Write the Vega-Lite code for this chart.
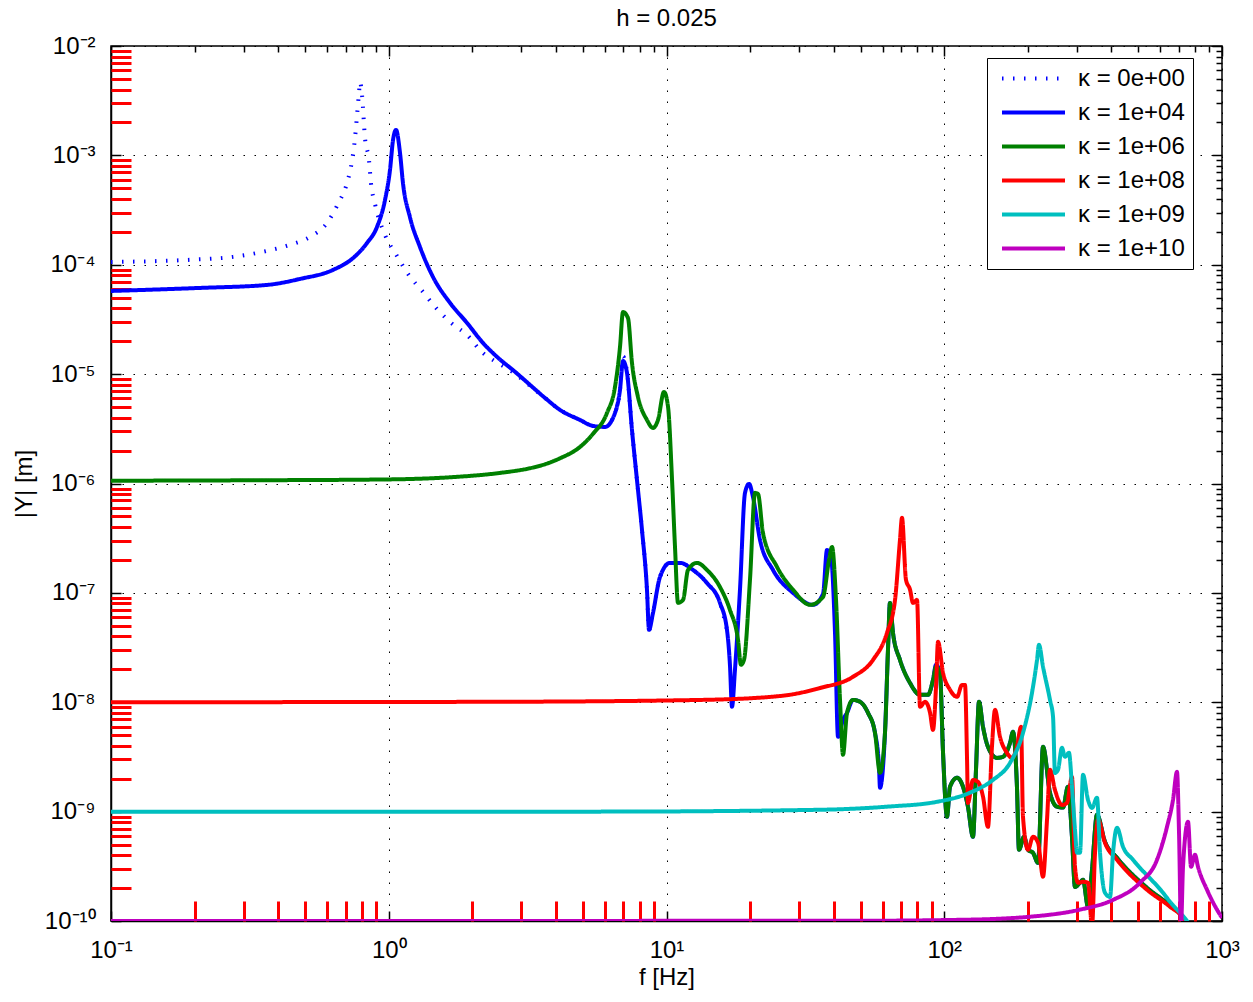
{
  "$schema": "https://vega.github.io/schema/vega-lite/v6.json",
  "width": 1111,
  "height": 875,
  "autosize": {"type": "none"},
  "padding": {"left": 111, "top": 46, "right": 31, "bottom": 81},
  "background": "white",
  "title": {"text": "h = 0.025", "font": "Liberation Sans", "fontSize": 24, "fontWeight": "normal", "color": "black", "anchor": "middle", "offset": 3},
  "config": {
    "view": {"stroke": "black", "strokeWidth": 1.5},
    "axis": {"domainColor": "black", "domainWidth": 1.5, "tickColor": "black", "tickWidth": 1.5, "labelColor": "black", "titleColor": "black"}
  },
  "data": {"values": [
    {"s":"κ = 0e+00","f":0.1,"Y":1.06e-4},{"s":"κ = 0e+00","f":0.1925,"Y":1.11e-4},{"s":"κ = 0e+00","f":0.2749,"Y":1.18e-4},{"s":"κ = 0e+00","f":0.3645,"Y":1.34e-4},{"s":"κ = 0e+00","f":0.441,"Y":1.52e-4},{"s":"κ = 0e+00","f":0.5206,"Y":1.80e-4},{"s":"κ = 0e+00","f":0.5995,"Y":2.41e-4},{"s":"κ = 0e+00","f":0.6565,"Y":3.60e-4},{"s":"κ = 0e+00","f":0.7073,"Y":5.59e-4},{"s":"κ = 0e+00","f":0.7373,"Y":8.89e-4},{"s":"κ = 0e+00","f":0.7559,"Y":1.44e-3},{"s":"κ = 0e+00","f":0.7685,"Y":2.29e-3},{"s":"κ = 0e+00","f":0.7814,"Y":3.72e-3},{"s":"κ = 0e+00","f":0.7879,"Y":4.69e-3},{"s":"κ = 0e+00","f":0.8011,"Y":3.57e-3},{"s":"κ = 0e+00","f":0.8212,"Y":1.44e-3},{"s":"κ = 0e+00","f":0.8488,"Y":9.08e-4},{"s":"κ = 0e+00","f":0.863,"Y":5.59e-4},{"s":"κ = 0e+00","f":0.8921,"Y":3.60e-4},{"s":"κ = 0e+00","f":0.9694,"Y":1.87e-4},{"s":"κ = 0e+00","f":1.071,"Y":1.20e-4},{"s":"κ = 0e+00","f":1.173,"Y":8.24e-5},{"s":"κ = 0e+00","f":1.328,"Y":5.64e-5},{"s":"κ = 0e+00","f":1.492,"Y":3.94e-5},{"s":"κ = 0e+00","f":1.662,"Y":3.0e-5},{"s":"κ = 0e+00","f":1.913,"Y":2.28e-5},{"s":"κ = 0e+00","f":2.184,"Y":1.56e-5},{"s":"κ = 0e+00","f":2.315,"Y":1.40e-5},{"s":"κ = 0e+00","f":2.453,"Y":1.28e-5},{"s":"κ = 0e+00","f":2.849,"Y":1.01e-5},{"s":"κ = 0e+00","f":3.226,"Y":7.8e-6},{"s":"κ = 0e+00","f":3.652,"Y":6.06e-6},{"s":"κ = 0e+00","f":4.136,"Y":4.71e-6},{"s":"κ = 0e+00","f":4.882,"Y":3.81e-6},{"s":"κ = 0e+00","f":5.438,"Y":3.36e-6},{"s":"κ = 0e+00","f":6.006,"Y":3.29e-6},{"s":"κ = 0e+00","f":6.525,"Y":4.42e-6},{"s":"κ = 0e+00","f":6.801,"Y":7.17e-6},{"s":"κ = 0e+00","f":6.972,"Y":1.45e-5},{"s":"κ = 0e+00","f":7.206,"Y":1.05e-5},{"s":"κ = 0e+00","f":7.511,"Y":3.09e-6},{"s":"κ = 0e+00","f":7.828,"Y":1.08e-6},{"s":"κ = 0e+00","f":8.16,"Y":3.77e-7},{"s":"κ = 0e+00","f":8.505,"Y":1.07e-7},{"s":"κ = 0e+00","f":8.65,"Y":4.59e-8},{"s":"κ = 0e+00","f":8.941,"Y":6.56e-8},{"s":"κ = 0e+00","f":9.476,"Y":1.40e-7},{"s":"κ = 0e+00","f":10.29,"Y":1.88e-7},{"s":"κ = 0e+00","f":11.18,"Y":1.88e-7},{"s":"κ = 0e+00","f":12.46,"Y":1.62e-7},{"s":"κ = 0e+00","f":13.99,"Y":1.23e-7},{"s":"κ = 0e+00","f":15.58,"Y":8.10e-8},{"s":"κ = 0e+00","f":16.51,"Y":4.59e-8},

    {"s":"κ = 1e+04","f":0.1,"Y":5.76e-5},{"s":"κ = 1e+04","f":0.2091,"Y":6.14e-5},{"s":"κ = 1e+04","f":0.3645,"Y":6.54e-5},{"s":"κ = 1e+04","f":0.4792,"Y":7.42e-5},{"s":"κ = 1e+04","f":0.6298,"Y":8.97e-5},{"s":"κ = 1e+04","f":0.7434,"Y":1.15e-4},{"s":"κ = 1e+04","f":0.8349,"Y":1.58e-4},{"s":"κ = 1e+04","f":0.9073,"Y":2.22e-4},{"s":"κ = 1e+04","f":0.9694,"Y":3.91e-4},{"s":"κ = 1e+04","f":1.0104,"Y":7.36e-4},{"s":"κ = 1e+04","f":1.036,"Y":1.38e-3},{"s":"κ = 1e+04","f":1.062,"Y":1.71e-3},{"s":"κ = 1e+04","f":1.098,"Y":1.05e-3},{"s":"κ = 1e+04","f":1.125,"Y":5.59e-4},{"s":"κ = 1e+04","f":1.192,"Y":2.73e-4},{"s":"κ = 1e+04","f":1.296,"Y":1.45e-4},{"s":"κ = 1e+04","f":1.443,"Y":7.74e-5},{"s":"κ = 1e+04","f":1.662,"Y":4.48e-5},{"s":"κ = 1e+04","f":1.913,"Y":2.94e-5},{"s":"κ = 1e+04","f":2.184,"Y":1.93e-5},{"s":"κ = 1e+04","f":2.453,"Y":1.44e-5},{"s":"κ = 1e+04","f":2.849,"Y":1.05e-5},{"s":"κ = 1e+04","f":3.226,"Y":7.97e-6},{"s":"κ = 1e+04","f":3.652,"Y":6.06e-6},{"s":"κ = 1e+04","f":4.136,"Y":4.71e-6},{"s":"κ = 1e+04","f":4.882,"Y":3.81e-6},{"s":"κ = 1e+04","f":5.438,"Y":3.36e-6},{"s":"κ = 1e+04","f":6.006,"Y":3.29e-6},{"s":"κ = 1e+04","f":6.525,"Y":4.42e-6},{"s":"κ = 1e+04","f":6.801,"Y":7.17e-6},{"s":"κ = 1e+04","f":6.972,"Y":1.32e-5},{"s":"κ = 1e+04","f":7.206,"Y":1.03e-5},{"s":"κ = 1e+04","f":7.511,"Y":3.09e-6},{"s":"κ = 1e+04","f":7.828,"Y":1.08e-6},{"s":"κ = 1e+04","f":8.16,"Y":3.77e-7},{"s":"κ = 1e+04","f":8.505,"Y":1.07e-7},{"s":"κ = 1e+04","f":8.65,"Y":4.59e-8},{"s":"κ = 1e+04","f":8.941,"Y":6.56e-8},{"s":"κ = 1e+04","f":9.476,"Y":1.40e-7},{"s":"κ = 1e+04","f":10.29,"Y":1.88e-7},{"s":"κ = 1e+04","f":11.18,"Y":1.88e-7},{"s":"κ = 1e+04","f":12.46,"Y":1.62e-7},{"s":"κ = 1e+04","f":13.99,"Y":1.23e-7},{"s":"κ = 1e+04","f":15.58,"Y":8.10e-8},{"s":"κ = 1e+04","f":16.51,"Y":4.59e-8},{"s":"κ = 1e+04","f":16.92,"Y":2.20e-8},{"s":"κ = 1e+04","f":17.21,"Y":9.08e-9},{"s":"κ = 1e+04","f":17.64,"Y":1.98e-8},{"s":"κ = 1e+04","f":18.39,"Y":1.07e-7},{"s":"κ = 1e+04","f":19.17,"Y":8.21e-7},{"s":"κ = 1e+04","f":19.82,"Y":9.92e-7},{"s":"κ = 1e+04","f":20.48,"Y":7.54e-7},{"s":"κ = 1e+04","f":21.71,"Y":3.05e-7},{"s":"κ = 1e+04","f":24.18,"Y":1.62e-7},{"s":"κ = 1e+04","f":28.54,"Y":1.0e-7},{"s":"κ = 1e+04","f":33.69,"Y":7.77e-8},{"s":"κ = 1e+04","f":36.61,"Y":9.79e-8},{"s":"κ = 1e+04","f":37.84,"Y":2.47e-7},{"s":"κ = 1e+04","f":39.11,"Y":2.13e-7},{"s":"κ = 1e+04","f":40.43,"Y":4.31e-8},{"s":"κ = 1e+04","f":41.45,"Y":4.83e-9},{"s":"κ = 1e+04","f":43.2,"Y":6.9e-9},{"s":"κ = 1e+04","f":44.66,"Y":8.0e-9},{"s":"κ = 1e+04","f":46.94,"Y":1.05e-8},{"s":"κ = 1e+04","f":49.74,"Y":1.01e-8},{"s":"κ = 1e+04","f":53.15,"Y":8.0e-9},{"s":"κ = 1e+04","f":56.32,"Y":5.25e-9},{"s":"κ = 1e+04","f":58.22,"Y":2.57e-9},{"s":"κ = 1e+04","f":58.7,"Y":1.65e-9},{"s":"κ = 1e+04","f":61.18,"Y":5.25e-9},{"s":"κ = 1e+04","f":62.72,"Y":3.01e-8},{"s":"κ = 1e+04","f":63.77,"Y":8.10e-8},{"s":"κ = 1e+04","f":65.38,"Y":4.31e-8},{"s":"κ = 1e+04","f":69.28,"Y":2.44e-8},{"s":"κ = 1e+04","f":75.3,"Y":1.50e-8},{"s":"κ = 1e+04","f":81.8,"Y":1.17e-8},{"s":"κ = 1e+04","f":87.4,"Y":1.17e-8},{"s":"κ = 1e+04","f":91.1,"Y":1.60e-8},{"s":"κ = 1e+04","f":93.4,"Y":2.2e-8},{"s":"κ = 1e+04","f":96.5,"Y":1.86e-8},{"s":"κ = 1e+04","f":99.0,"Y":3.45e-9},{"s":"κ = 1e+04","f":102.3,"Y":8.97e-10},{"s":"κ = 1e+04","f":104.9,"Y":1.69e-9},{"s":"κ = 1e+04","f":111.2,"Y":2.04e-9},{"s":"κ = 1e+04","f":116.8,"Y":1.69e-9},{"s":"κ = 1e+04","f":121.7,"Y":1.11e-9},{"s":"κ = 1e+04","f":126.9,"Y":5.89e-10},{"s":"κ = 1e+04","f":130.1,"Y":2.41e-9},{"s":"κ = 1e+04","f":133.4,"Y":1.01e-8},{"s":"κ = 1e+04","f":137.9,"Y":5.96e-9},{"s":"κ = 1e+04","f":143.7,"Y":3.91e-9},{"s":"κ = 1e+04","f":154.8,"Y":3.10e-9},{"s":"κ = 1e+04","f":162.7,"Y":3.17e-9},{"s":"κ = 1e+04","f":172.5,"Y":4.26e-9},{"s":"κ = 1e+04","f":176.8,"Y":5.36e-9},{"s":"κ = 1e+04","f":182.7,"Y":1.69e-9},{"s":"κ = 1e+04","f":185.8,"Y":4.48e-10},{"s":"κ = 1e+04","f":193.8,"Y":5.89e-10},{"s":"κ = 1e+04","f":200.2,"Y":4.48e-10},{"s":"κ = 1e+04","f":208.7,"Y":4.20e-10},{"s":"κ = 1e+04","f":217.6,"Y":3.40e-10},{"s":"κ = 1e+04","f":226.8,"Y":3.91e-9},{"s":"κ = 1e+04","f":240.3,"Y":1.49e-9},{"s":"κ = 1e+04","f":254.6,"Y":1.11e-9},{"s":"κ = 1e+04","f":267.6,"Y":1.09e-9},{"s":"κ = 1e+04","f":278.9,"Y":1.69e-9},{"s":"κ = 1e+04","f":288.3,"Y":5.89e-10},{"s":"κ = 1e+04","f":295.6,"Y":2.05e-10},{"s":"κ = 1e+04","f":308.2,"Y":2.24e-10},{"s":"κ = 1e+04","f":315.9,"Y":2.38e-10},{"s":"κ = 1e+04","f":329.3,"Y":1.35e-10},{"s":"κ = 1e+04","f":340.4,"Y":2.94e-10},{"s":"κ = 1e+04","f":354.8,"Y":9.35e-10},{"s":"κ = 1e+04","f":379.1,"Y":5.30e-10},{"s":"κ = 1e+04","f":418.8,"Y":3.78e-10},{"s":"κ = 1e+04","f":537.0,"Y":2.01e-10},{"s":"κ = 1e+04","f":649.8,"Y":1.38e-10},{"s":"κ = 1e+04","f":723.8,"Y":1.05e-10},{"s":"κ = 1e+04","f":742.0,"Y":9.0e-11},

    {"s":"κ = 1e+06","f":0.1,"Y":1.06e-6},{"s":"κ = 1e+06","f":0.3166,"Y":1.07e-6},{"s":"κ = 1e+06","f":1.0,"Y":1.09e-6},{"s":"κ = 1e+06","f":1.662,"Y":1.14e-6},{"s":"κ = 1e+06","f":2.515,"Y":1.25e-6},{"s":"κ = 1e+06","f":3.226,"Y":1.38e-6},{"s":"κ = 1e+06","f":3.652,"Y":1.5e-6},{"s":"κ = 1e+06","f":4.136,"Y":1.7e-6},{"s":"κ = 1e+06","f":4.882,"Y":2.16e-6},{"s":"κ = 1e+06","f":5.438,"Y":2.85e-6},{"s":"κ = 1e+06","f":6.107,"Y":4.42e-6},{"s":"κ = 1e+06","f":6.525,"Y":7.64e-6},{"s":"κ = 1e+06","f":6.801,"Y":1.77e-5},{"s":"κ = 1e+06","f":6.972,"Y":3.70e-5},{"s":"κ = 1e+06","f":7.266,"Y":3.26e-5},{"s":"κ = 1e+06","f":7.511,"Y":1.27e-5},{"s":"κ = 1e+06","f":7.894,"Y":6.19e-6},{"s":"κ = 1e+06","f":8.505,"Y":3.81e-6},{"s":"κ = 1e+06","f":8.941,"Y":3.22e-6},{"s":"κ = 1e+06","f":9.319,"Y":3.81e-6},{"s":"κ = 1e+06","f":9.795,"Y":6.88e-6},{"s":"κ = 1e+06","f":10.13,"Y":5.01e-6},{"s":"κ = 1e+06","f":10.47,"Y":1.08e-6},{"s":"κ = 1e+06","f":10.73,"Y":2.63e-7},{"s":"κ = 1e+06","f":11.0,"Y":8.10e-8},{"s":"κ = 1e+06","f":11.47,"Y":8.63e-8},{"s":"κ = 1e+06","f":11.95,"Y":1.62e-7},{"s":"κ = 1e+06","f":12.88,"Y":1.88e-7},{"s":"κ = 1e+06","f":13.99,"Y":1.62e-7},{"s":"κ = 1e+06","f":15.58,"Y":1.13e-7},{"s":"κ = 1e+06","f":16.92,"Y":6.99e-8},{"s":"κ = 1e+06","f":18.09,"Y":3.72e-8},{"s":"κ = 1e+06","f":18.54,"Y":2.20e-8},{"s":"κ = 1e+06","f":19.01,"Y":2.44e-8},{"s":"κ = 1e+06","f":19.98,"Y":1.32e-7},{"s":"κ = 1e+06","f":20.83,"Y":8.21e-7},{"s":"κ = 1e+06","f":21.36,"Y":8.0e-7},{"s":"κ = 1e+06","f":22.25,"Y":3.54e-7},{"s":"κ = 1e+06","f":24.99,"Y":1.73e-7},{"s":"κ = 1e+06","f":28.54,"Y":1.07e-7},{"s":"κ = 1e+06","f":32.87,"Y":7.77e-8},{"s":"κ = 1e+06","f":36.61,"Y":9.19e-8},{"s":"κ = 1e+06","f":38.47,"Y":2.0e-7},{"s":"κ = 1e+06","f":39.44,"Y":2.63e-7},{"s":"κ = 1e+06","f":40.77,"Y":8.63e-8},{"s":"κ = 1e+06","f":42.14,"Y":1.05e-8},{"s":"κ = 1e+06","f":43.2,"Y":3.31e-9},{"s":"κ = 1e+06","f":44.66,"Y":8.0e-9},{"s":"κ = 1e+06","f":46.94,"Y":1.05e-8},{"s":"κ = 1e+06","f":49.74,"Y":1.01e-8},{"s":"κ = 1e+06","f":53.15,"Y":8.0e-9},{"s":"κ = 1e+06","f":56.32,"Y":5.25e-9},{"s":"κ = 1e+06","f":58.7,"Y":2.26e-9},{"s":"κ = 1e+06","f":61.18,"Y":5.25e-9},{"s":"κ = 1e+06","f":62.72,"Y":3.01e-8},{"s":"κ = 1e+06","f":63.77,"Y":8.10e-8},{"s":"κ = 1e+06","f":65.38,"Y":4.31e-8},{"s":"κ = 1e+06","f":69.28,"Y":2.44e-8},{"s":"κ = 1e+06","f":75.3,"Y":1.50e-8},{"s":"κ = 1e+06","f":81.8,"Y":1.17e-8},{"s":"κ = 1e+06","f":87.4,"Y":1.17e-8},{"s":"κ = 1e+06","f":91.1,"Y":1.60e-8},{"s":"κ = 1e+06","f":93.4,"Y":2.11e-8},{"s":"κ = 1e+06","f":96.5,"Y":1.86e-8},{"s":"κ = 1e+06","f":99.0,"Y":3.45e-9},{"s":"κ = 1e+06","f":102.3,"Y":8.97e-10},{"s":"κ = 1e+06","f":104.9,"Y":1.69e-9},{"s":"κ = 1e+06","f":111.2,"Y":2.04e-9},{"s":"κ = 1e+06","f":116.8,"Y":1.69e-9},{"s":"κ = 1e+06","f":121.7,"Y":1.11e-9},{"s":"κ = 1e+06","f":126.9,"Y":5.89e-10},{"s":"κ = 1e+06","f":130.1,"Y":2.41e-9},{"s":"κ = 1e+06","f":133.4,"Y":1.01e-8},{"s":"κ = 1e+06","f":137.9,"Y":5.96e-9},{"s":"κ = 1e+06","f":143.7,"Y":3.91e-9},{"s":"κ = 1e+06","f":154.8,"Y":3.10e-9},{"s":"κ = 1e+06","f":162.7,"Y":3.17e-9},{"s":"κ = 1e+06","f":172.5,"Y":4.26e-9},{"s":"κ = 1e+06","f":176.8,"Y":5.36e-9},{"s":"κ = 1e+06","f":182.7,"Y":1.69e-9},{"s":"κ = 1e+06","f":185.8,"Y":4.48e-10},{"s":"κ = 1e+06","f":193.8,"Y":5.89e-10},{"s":"κ = 1e+06","f":200.2,"Y":4.48e-10},{"s":"κ = 1e+06","f":208.7,"Y":4.20e-10},{"s":"κ = 1e+06","f":217.6,"Y":3.40e-10},{"s":"κ = 1e+06","f":226.8,"Y":3.91e-9},{"s":"κ = 1e+06","f":240.3,"Y":1.49e-9},{"s":"κ = 1e+06","f":254.6,"Y":1.11e-9},{"s":"κ = 1e+06","f":267.6,"Y":1.09e-9},{"s":"κ = 1e+06","f":278.9,"Y":1.69e-9},{"s":"κ = 1e+06","f":288.3,"Y":5.89e-10},{"s":"κ = 1e+06","f":295.6,"Y":2.05e-10},{"s":"κ = 1e+06","f":308.2,"Y":2.24e-10},{"s":"κ = 1e+06","f":315.9,"Y":2.38e-10},{"s":"κ = 1e+06","f":329.3,"Y":1.35e-10},{"s":"κ = 1e+06","f":340.4,"Y":2.94e-10},{"s":"κ = 1e+06","f":354.8,"Y":9.35e-10},{"s":"κ = 1e+06","f":379.1,"Y":5.30e-10},{"s":"κ = 1e+06","f":418.8,"Y":3.78e-10},{"s":"κ = 1e+06","f":537.0,"Y":2.01e-10},{"s":"κ = 1e+06","f":649.8,"Y":1.38e-10},{"s":"κ = 1e+06","f":723.8,"Y":1.05e-10},{"s":"κ = 1e+06","f":742.0,"Y":9.0e-11},

    {"s":"κ = 1e+08","f":0.1,"Y":1.0e-8},{"s":"κ = 1e+08","f":2.515,"Y":1.01e-8},{"s":"κ = 1e+08","f":13.2,"Y":1.05e-8},{"s":"κ = 1e+08","f":25.62,"Y":1.14e-8},{"s":"κ = 1e+08","f":35.7,"Y":1.35e-8},{"s":"κ = 1e+08","f":46.94,"Y":1.71e-8},{"s":"κ = 1e+08","f":55.4,"Y":2.44e-8},{"s":"κ = 1e+08","f":62.2,"Y":4.31e-8},{"s":"κ = 1e+08","f":66.5,"Y":8.63e-8},{"s":"κ = 1e+08","f":69.28,"Y":3.05e-7},{"s":"κ = 1e+08","f":70.45,"Y":4.85e-7},{"s":"κ = 1e+08","f":72.8,"Y":1.32e-7},{"s":"κ = 1e+08","f":75.3,"Y":1.07e-7},{"s":"κ = 1e+08","f":77.2,"Y":8.10e-8},{"s":"κ = 1e+08","f":79.8,"Y":8.63e-8},{"s":"κ = 1e+08","f":81.8,"Y":9.08e-9},{"s":"κ = 1e+08","f":85.3,"Y":1.01e-8},{"s":"κ = 1e+08","f":88.9,"Y":8.0e-9},{"s":"κ = 1e+08","f":91.1,"Y":5.59e-9},{"s":"κ = 1e+08","f":93.4,"Y":1.38e-8},{"s":"κ = 1e+08","f":94.95,"Y":3.57e-8},{"s":"κ = 1e+08","f":99.0,"Y":1.86e-8},{"s":"κ = 1e+08","f":104.9,"Y":1.30e-8},{"s":"κ = 1e+08","f":111.2,"Y":1.12e-8},{"s":"κ = 1e+08","f":115.8,"Y":1.44e-8},{"s":"κ = 1e+08","f":118.8,"Y":1.44e-8},{"s":"κ = 1e+08","f":120.8,"Y":3.0e-9},{"s":"κ = 1e+08","f":121.7,"Y":1.20e-9},{"s":"κ = 1e+08","f":126.9,"Y":1.95e-9},{"s":"κ = 1e+08","f":132.3,"Y":1.87e-9},{"s":"κ = 1e+08","f":137.9,"Y":1.37e-9},{"s":"κ = 1e+08","f":143.7,"Y":7.26e-10},{"s":"κ = 1e+08","f":148.5,"Y":3.91e-9},{"s":"κ = 1e+08","f":152.3,"Y":8.52e-9},{"s":"κ = 1e+08","f":158.8,"Y":4.83e-9},{"s":"κ = 1e+08","f":168.2,"Y":3.45e-9},{"s":"κ = 1e+08","f":175.4,"Y":3.10e-9},{"s":"κ = 1e+08","f":182.7,"Y":3.91e-9},{"s":"κ = 1e+08","f":189.0,"Y":5.96e-9},{"s":"κ = 1e+08","f":192.1,"Y":8.97e-10},{"s":"κ = 1e+08","f":200.2,"Y":4.48e-10},{"s":"κ = 1e+08","f":208.7,"Y":5.89e-10},{"s":"κ = 1e+08","f":217.6,"Y":5.19e-10},{"s":"κ = 1e+08","f":226.8,"Y":2.54e-10},{"s":"κ = 1e+08","f":234.4,"Y":8.41e-10},{"s":"κ = 1e+08","f":240.3,"Y":2.41e-9},{"s":"κ = 1e+08","f":250.4,"Y":1.58e-9},{"s":"κ = 1e+08","f":265.3,"Y":1.15e-9},{"s":"κ = 1e+08","f":276.6,"Y":1.20e-9},{"s":"κ = 1e+08","f":288.3,"Y":2.08e-9},{"s":"κ = 1e+08","f":295.6,"Y":3.13e-10},{"s":"κ = 1e+08","f":303.1,"Y":2.24e-10},{"s":"κ = 1e+08","f":315.9,"Y":2.28e-10},{"s":"κ = 1e+08","f":329.3,"Y":2.24e-10},{"s":"κ = 1e+08","f":340.4,"Y":9.0e-11},{"s":"κ = 1e+08","f":349.0,"Y":4.20e-10},{"s":"κ = 1e+08","f":357.7,"Y":8.41e-10},{"s":"κ = 1e+08","f":379.1,"Y":5.19e-10},{"s":"κ = 1e+08","f":418.8,"Y":3.63e-10},{"s":"κ = 1e+08","f":537.0,"Y":1.93e-10},{"s":"κ = 1e+08","f":649.8,"Y":1.35e-10},{"s":"κ = 1e+08","f":723.8,"Y":1.05e-10},{"s":"κ = 1e+08","f":742.0,"Y":9.0e-11},

    {"s":"κ = 1e+09","f":0.1,"Y":1.0e-9},{"s":"κ = 1e+09","f":5.76,"Y":1.0e-9},{"s":"κ = 1e+09","f":35.7,"Y":1.04e-9},{"s":"κ = 1e+09","f":62.2,"Y":1.11e-9},{"s":"κ = 1e+09","f":94.2,"Y":1.23e-9},{"s":"κ = 1e+09","f":123.8,"Y":1.49e-9},{"s":"κ = 1e+09","f":149.8,"Y":1.95e-9},{"s":"κ = 1e+09","f":172.5,"Y":2.79e-9},{"s":"κ = 1e+09","f":192.1,"Y":5.25e-9},{"s":"κ = 1e+09","f":207.0,"Y":1.22e-8},{"s":"κ = 1e+09","f":215.8,"Y":2.44e-8},{"s":"κ = 1e+09","f":219.3,"Y":3.35e-8},{"s":"κ = 1e+09","f":226.8,"Y":2.11e-8},{"s":"κ = 1e+09","f":240.3,"Y":1.05e-8},{"s":"κ = 1e+09","f":246.4,"Y":7.36e-9},{"s":"κ = 1e+09","f":250.4,"Y":2.26e-9},{"s":"κ = 1e+09","f":256.7,"Y":2.41e-9},{"s":"κ = 1e+09","f":265.3,"Y":3.83e-9},{"s":"κ = 1e+09","f":272.0,"Y":3.17e-9},{"s":"κ = 1e+09","f":281.2,"Y":3.45e-9},{"s":"κ = 1e+09","f":288.3,"Y":1.69e-9},{"s":"κ = 1e+09","f":295.6,"Y":6.82e-10},{"s":"κ = 1e+09","f":300.6,"Y":4.20e-10},{"s":"κ = 1e+09","f":308.2,"Y":4.20e-10},{"s":"κ = 1e+09","f":315.9,"Y":2.17e-9},{"s":"κ = 1e+09","f":329.3,"Y":1.28e-9},{"s":"κ = 1e+09","f":340.4,"Y":1.08e-9},{"s":"κ = 1e+09","f":354.8,"Y":1.34e-9},{"s":"κ = 1e+09","f":363.8,"Y":4.20e-10},{"s":"κ = 1e+09","f":379.1,"Y":1.81e-10},{"s":"κ = 1e+09","f":395.3,"Y":1.66e-10},{"s":"κ = 1e+09","f":405.2,"Y":4.20e-10},{"s":"κ = 1e+09","f":418.8,"Y":7.11e-10},{"s":"κ = 1e+09","f":440.2,"Y":4.77e-10},{"s":"κ = 1e+09","f":478.2,"Y":3.63e-10},{"s":"κ = 1e+09","f":613.3,"Y":1.81e-10},{"s":"κ = 1e+09","f":649.8,"Y":1.50e-10},{"s":"κ = 1e+09","f":748.2,"Y":1.0e-10},{"s":"κ = 1e+09","f":770.0,"Y":9.0e-11},

    {"s":"κ = 1e+10","f":0.1,"Y":1.0e-10},{"s":"κ = 1e+10","f":50,"Y":1.005e-10},{"s":"κ = 1e+10","f":100,"Y":1.02e-10},{"s":"κ = 1e+10","f":158.8,"Y":1.05e-10},{"s":"κ = 1e+10","f":200,"Y":1.09e-10},{"s":"κ = 1e+10","f":308.2,"Y":1.27e-10},{"s":"κ = 1e+10","f":405.2,"Y":1.56e-10},{"s":"κ = 1e+10","f":506.8,"Y":2.24e-10},{"s":"κ = 1e+10","f":583.4,"Y":3.63e-10},{"s":"κ = 1e+10","f":633.9,"Y":7.26e-10},{"s":"κ = 1e+10","f":666.2,"Y":1.28e-9},{"s":"κ = 1e+10","f":688.7,"Y":2.31e-9},{"s":"κ = 1e+10","f":700.3,"Y":6.40e-10},{"s":"κ = 1e+10","f":711.9,"Y":9.0e-11},{"s":"κ = 1e+10","f":723.8,"Y":3.13e-10},{"s":"κ = 1e+10","f":754.6,"Y":8.07e-10},{"s":"κ = 1e+10","f":773.6,"Y":3.13e-10},{"s":"κ = 1e+10","f":799.5,"Y":4.03e-10},{"s":"κ = 1e+10","f":819.6,"Y":3.13e-10},{"s":"κ = 1e+10","f":883.1,"Y":1.93e-10},{"s":"κ = 1e+10","f":959.4,"Y":1.27e-10},{"s":"κ = 1e+10","f":1000,"Y":1.07e-10}
  ]},
  "layer": [
    {
      "mark": {"type": "line", "strokeWidth": 4, "clip": true, "strokeJoin": "round", "interpolate": "monotone"},
      "encoding": {
        "x": {"field": "f", "type": "quantitative",
          "scale": {"type": "log", "domain": [0.1, 1000], "nice": false},
          "axis": {
            "orient": "bottom",
            "values": [0.1,1,10,100,1000],
            "labelExpr": "datum.value == 0.1 ? '10⁻¹' : datum.value == 1 ? '10⁰' : datum.value == 10 ? '10¹' : datum.value == 100 ? '10²' : datum.value == 1000 ? '10³' : ''",
            "labelFont": "Liberation Sans", "labelFontSize": 24, "labelPadding": 17, "labelOverlap": false, "labelFlush": false, "labelBound": false,
            "ticks": false,
            "grid": true, "gridColor": "black", "gridDash": [1.5, 9.5], "gridWidth": 1,
            "title": "f [Hz]", "titleFont": "Liberation Sans", "titleFontSize": 24, "titleFontWeight": "normal", "titlePadding": 3
          }
        },
        "y": {"field": "Y", "type": "quantitative",
          "scale": {"type": "log", "domain": [1e-10, 1e-2], "nice": false},
          "axis": {
            "orient": "left",
            "values": [1e-10,1e-9,1e-8,1e-7,1e-6,1e-5,1e-4,1e-3,1e-2],
            "labelExpr": "datum.value == 1e-2 ? '10⁻²' : datum.value == 1e-3 ? '10⁻³' : datum.value == 1e-4 ? '10⁻⁴' : datum.value == 1e-5 ? '10⁻⁵' : datum.value == 1e-6 ? '10⁻⁶' : datum.value == 1e-7 ? '10⁻⁷' : datum.value == 1e-8 ? '10⁻⁸' : datum.value == 1e-9 ? '10⁻⁹' : datum.value == 1e-10 ? '10⁻¹⁰' : ''",
            "labelFont": "Liberation Sans", "labelFontSize": 24, "labelPadding": 16, "labelOverlap": false, "labelFlush": false, "labelBound": false,
            "ticks": false,
            "grid": true, "gridColor": "black", "gridDash": [1.5, 9.5], "gridWidth": 1,
            "title": "|Y| [m]", "titleFont": "Liberation Sans", "titleFontSize": 24, "titleFontWeight": "normal", "titlePadding": 8
          }
        },
        "color": {"field": "s", "type": "nominal",
          "scale": {"domain": ["κ = 0e+00","κ = 1e+04","κ = 1e+06","κ = 1e+08","κ = 1e+09","κ = 1e+10"], "range": ["#0000ff","#0000ff","#008000","#ff0000","#00bfbf","#bf00bf"]},
          "legend": {"orient": "none", "legendX": 876, "legendY": 12, "title": null, "strokeColor": "black", "fillColor": "white", "padding": 8, "symbolType": "M-3,0H3", "symbolSize": 441, "symbolStrokeWidth": 4, "symbolOffset": 26, "labelFont": "Liberation Sans", "labelFontSize": 24, "labelColor": "black", "labelOffset": 32, "rowPadding": 9, "cornerRadius": 0}
        },
        "strokeDash": {"field": "s", "type": "nominal",
          "scale": {"domain": ["κ = 0e+00","κ = 1e+04","κ = 1e+06","κ = 1e+08","κ = 1e+09","κ = 1e+10"], "range": [[1.5,9.5],[1,0],[1,0],[1,0],[1,0],[1,0]]}
        }
      }
    },
    {
      "mark": {"type": "point", "opacity": 0},
      "encoding": {
        "x": {"field": "f", "type": "quantitative",
          "scale": {"type": "log", "domain": [0.1, 1000], "nice": false},
          "axis": {"orient": "bottom", "values": [0.1,1,10,100,1000], "labels": false, "grid": false, "domain": false, "title": null, "ticks": true, "tickSize": -10, "tickColor": "black", "tickWidth": 1.5}
        },
        "y": {"field": "Y", "type": "quantitative",
          "scale": {"type": "log", "domain": [1e-10, 1e-2], "nice": false},
          "axis": {"orient": "left", "values": [1e-10,1e-9,1e-8,1e-7,1e-6,1e-5,1e-4,1e-3,1e-2], "labels": false, "grid": false, "domain": false, "title": null, "ticks": true, "tickSize": -10, "tickColor": "black", "tickWidth": 1.5}
        }
      }
    },
    {
      "mark": {"type": "point", "opacity": 0},
      "encoding": {
        "x": {"field": "f", "type": "quantitative",
          "scale": {"type": "log", "domain": [0.1, 1000], "nice": false},
          "axis": {"orient": "top", "values": [0.1,1,10,100,1000], "labels": false, "grid": false, "domain": false, "title": null, "ticks": true, "tickSize": -10, "tickColor": "black", "tickWidth": 1.5}
        },
        "y": {"field": "Y", "type": "quantitative",
          "scale": {"type": "log", "domain": [1e-10, 1e-2], "nice": false},
          "axis": {"orient": "right", "values": [1e-10,1e-9,1e-8,1e-7,1e-6,1e-5,1e-4,1e-3,1e-2], "labels": false, "grid": false, "domain": false, "title": null, "ticks": true, "tickSize": -10, "tickColor": "black", "tickWidth": 1.5}
        }
      }
    },
    {
      "mark": {"type": "point", "opacity": 0},
      "encoding": {
        "x": {"field": "f", "type": "quantitative",
          "scale": {"type": "log", "domain": [0.1, 1000], "nice": false},
          "axis": {"orient": "bottom", "values": [0.2,0.3,0.4,0.5,0.6,0.7,0.8,0.9,2,3,4,5,6,7,8,9,20,30,40,50,60,70,80,90,200,300,400,500,600,700,800,900], "labels": false, "grid": false, "domain": false, "title": null, "ticks": true, "tickSize": -20, "tickColor": "red", "tickWidth": 3}
        },
        "y": {"field": "Y", "type": "quantitative",
          "scale": {"type": "log", "domain": [1e-10, 1e-2], "nice": false},
          "axis": {"orient": "left", "values": [2e-10,3e-10,4e-10,5e-10,6e-10,7e-10,8e-10,9e-10,2e-9,3e-9,4e-9,5e-9,6e-9,7e-9,8e-9,9e-9,2e-8,3e-8,4e-8,5e-8,6e-8,7e-8,8e-8,9e-8,2e-7,3e-7,4e-7,5e-7,6e-7,7e-7,8e-7,9e-7,2e-6,3e-6,4e-6,5e-6,6e-6,7e-6,8e-6,9e-6,2e-5,3e-5,4e-5,5e-5,6e-5,7e-5,8e-5,9e-5,2e-4,3e-4,4e-4,5e-4,6e-4,7e-4,8e-4,9e-4,2e-3,3e-3,4e-3,5e-3,6e-3,7e-3,8e-3,9e-3], "labels": false, "grid": false, "domain": false, "title": null, "ticks": true, "tickSize": -20, "tickColor": "red", "tickWidth": 3}
        }
      }
    },
    {
      "mark": {"type": "point", "opacity": 0},
      "encoding": {
        "x": {"field": "f", "type": "quantitative",
          "scale": {"type": "log", "domain": [0.1, 1000], "nice": false},
          "axis": {"orient": "top", "values": [0.2,0.3,0.4,0.5,0.6,0.7,0.8,0.9,2,3,4,5,6,7,8,9,20,30,40,50,60,70,80,90,200,300,400,500,600,700,800,900], "labels": false, "grid": false, "domain": false, "title": null, "ticks": true, "tickSize": -6, "tickColor": "black", "tickWidth": 1.5}
        },
        "y": {"field": "Y", "type": "quantitative",
          "scale": {"type": "log", "domain": [1e-10, 1e-2], "nice": false},
          "axis": {"orient": "right", "values": [2e-10,3e-10,4e-10,5e-10,6e-10,7e-10,8e-10,9e-10,2e-9,3e-9,4e-9,5e-9,6e-9,7e-9,8e-9,9e-9,2e-8,3e-8,4e-8,5e-8,6e-8,7e-8,8e-8,9e-8,2e-7,3e-7,4e-7,5e-7,6e-7,7e-7,8e-7,9e-7,2e-6,3e-6,4e-6,5e-6,6e-6,7e-6,8e-6,9e-6,2e-5,3e-5,4e-5,5e-5,6e-5,7e-5,8e-5,9e-5,2e-4,3e-4,4e-4,5e-4,6e-4,7e-4,8e-4,9e-4,2e-3,3e-3,4e-3,5e-3,6e-3,7e-3,8e-3,9e-3], "labels": false, "grid": false, "domain": false, "title": null, "ticks": true, "tickSize": -6, "tickColor": "black", "tickWidth": 1.5}
        }
      }
    }
  ],
  "resolve": {"axis": {"x": "independent", "y": "independent"}}
}
